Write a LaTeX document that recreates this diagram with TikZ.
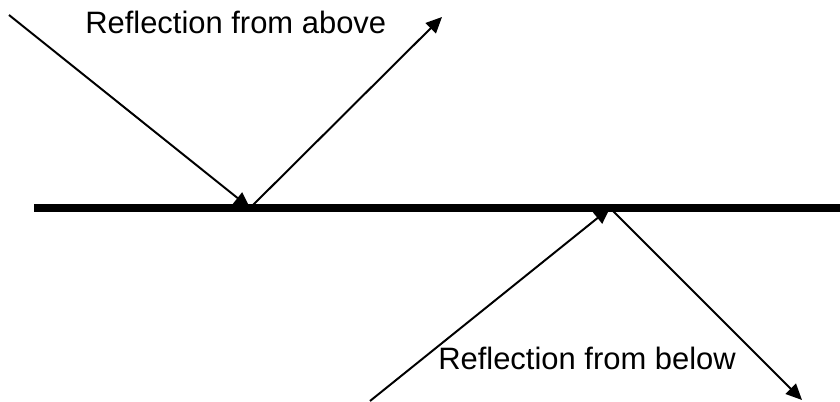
\documentclass[tikz,border=0pt]{standalone}
\usepackage{fontspec}
\setmainfont{Liberation Sans}
\usetikzlibrary{arrows.meta}

\begin{document}
\begin{tikzpicture}[x=0.025cm,y=-0.025cm,ray/.style={-{Triangle[length=0.4cm,width=0.36cm]},line width=1.4pt,draw=black},mirror/.style={line width=5.7pt,draw=black},lbl/.style={anchor=base west,inner sep=0pt,font=\fontsize{22}{26}\selectfont}]
\useasboundingbox (0,0) rectangle (840,401);
% surface and the points on it
\coordinate (left) at (34,208);\coordinate (right) at (840,208);
\coordinate (hitA) at (250,208);\coordinate (hitB) at (610,208);
\coordinate (srcA) at (9,15);\coordinate (outA) at (442,17);
\coordinate (srcB) at (370,401);\coordinate (outB) at (802,400);
\node[lbl] (above) at (85,33) {Reflection from above};
\node[lbl] (below) at (438,369) {Reflection from below};
\draw[ray] (srcA)--(hitA);\draw[ray] (hitA)--(outA);
\draw[ray] (srcB)--(hitB);\draw[ray] (hitB)--(outB);
\draw[mirror] (left)--(right);
\end{tikzpicture}
\end{document}
